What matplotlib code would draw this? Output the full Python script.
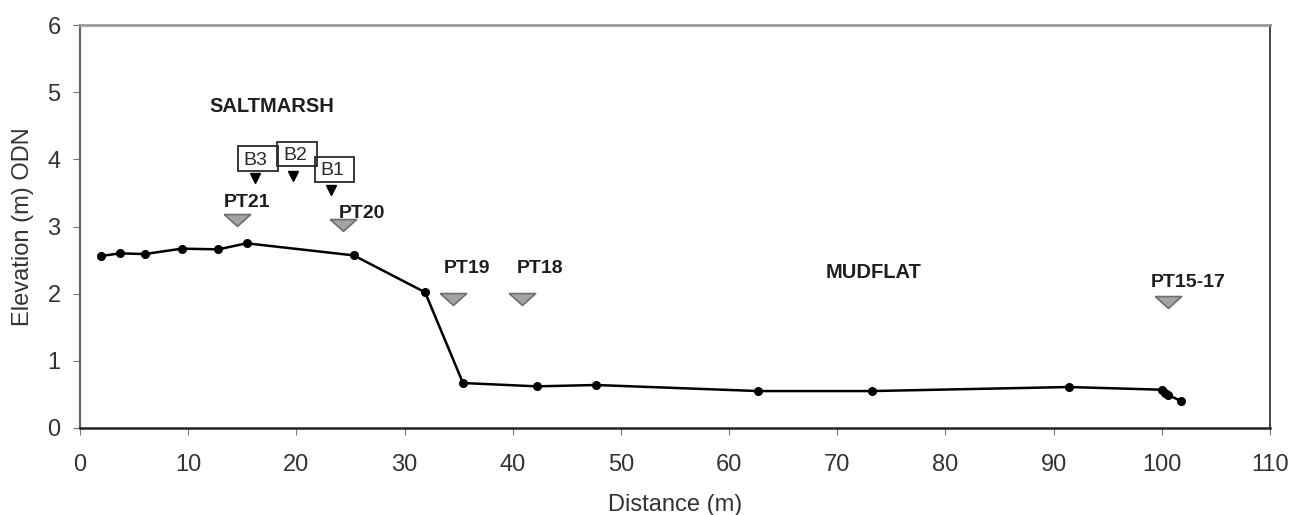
import matplotlib
matplotlib.use("Agg")
import matplotlib.pyplot as plt
from matplotlib.patches import Rectangle

plt.rcParams["font.family"] = ["Liberation Sans", "DejaVu Sans"]

# surveyed profile
dist = [1.9, 3.7, 6.0, 9.4, 12.8, 15.4, 25.3, 31.9, 35.4, 42.2, 47.7,
        62.7, 73.2, 91.4, 100.0, 100.3, 100.6, 101.8]
elev = [2.56, 2.60, 2.59, 2.67, 2.66, 2.75, 2.57, 2.02, 0.67, 0.62, 0.64,
        0.55, 0.55, 0.61, 0.57, 0.52, 0.49, 0.40]

# pressure transducers (gray markers)
pt_names = ["PT21", "PT20", "PT19", "PT18", "PT15-17"]
pt_x = [14.5, 24.3, 34.5, 40.9, 100.6]
pt_y = [3.10, 3.02, 1.92, 1.92, 1.88]
pt_label_xy = [(15.4, 3.35), (26.1, 3.20), (35.8, 2.37), (42.5, 2.37), (102.4, 2.16)]

# boreholes (black markers, boxed labels)
b_names = ["B3", "B2", "B1"]
b_x = [16.2, 19.7, 23.2]
b_y = [3.72, 3.75, 3.54]
b_text_xy = [(15.1, 3.99), (18.8, 4.06), (22.2, 3.83)]
b_box = [(14.6, 3.82, 3.7, 0.38), (18.2, 3.90, 3.7, 0.36), (21.7, 3.66, 3.6, 0.37)]

zones = ["SALTMARSH", "MUDFLAT"]
zone_xy = [(17.7, 4.78), (73.4, 2.32)]

fig = plt.figure(figsize=(12.93, 5.15), dpi=100)
ax = fig.add_axes([80 / 1293, 87 / 515, 1190 / 1293, 403 / 515])

ax.plot(dist, elev, "-o", color="black", lw=1.8, ms=5.5, zorder=3)

flat_tri = [(-1, 0.45), (1, 0.45), (0, -0.45), (-1, 0.45)]
ax.plot(pt_x, pt_y, ls="none", marker=flat_tri, color="#a3a3a3",
        mec="#6e6e6e", mew=1.2, ms=19, zorder=2)
for name, (lx, ly) in zip(pt_names, pt_label_xy):
    ax.text(lx, ly, name, ha="center", va="center", fontsize=14,
            fontweight="bold", color="#1e1e1e")

ax.plot(b_x, b_y, "v", color="black", ms=7.5, zorder=2)
for (x0, y0, w, h) in b_box:
    ax.add_patch(Rectangle((x0, y0), w, h, fill=False, ec="#2a2a2a", lw=1.3))
for name, (lx, ly) in zip(b_names, b_text_xy):
    ax.text(lx, ly, name, ha="left", va="center", fontsize=14, color="#2a2a2a")

for name, (lx, ly) in zip(zones, zone_xy):
    ax.text(lx, ly, name, ha="center", va="center", fontsize=14.5,
            fontweight="bold", color="#1e1e1e")

ax.set_xlim(0, 110)
ax.set_ylim(0, 6)
ax.set_xticks(range(0, 111, 10))
ax.set_yticks(range(0, 7))
ax.tick_params(direction="out", length=5, labelsize=17, colors="#333333")
ax.tick_params(axis="x", pad=14)
ax.tick_params(axis="y", pad=9)
ax.tick_params(color="#777777")
ax.set_xlabel("Distance (m)", fontsize=17, color="#333333", labelpad=13)
ax.set_ylabel("Elevation (m) ODN", fontsize=17, color="#333333", labelpad=9.5)

ax.spines["left"].set_color("#666666")
ax.spines["bottom"].set_color("#222222")
ax.spines["bottom"].set_linewidth(1.8)
ax.spines["top"].set_color("#999999")
ax.spines["top"].set_linewidth(2)
ax.spines["right"].set_color("#444444")
ax.spines["left"].set_linewidth(1.6)
ax.spines["right"].set_linewidth(1.4)

fig.savefig("out.png", dpi=100)
